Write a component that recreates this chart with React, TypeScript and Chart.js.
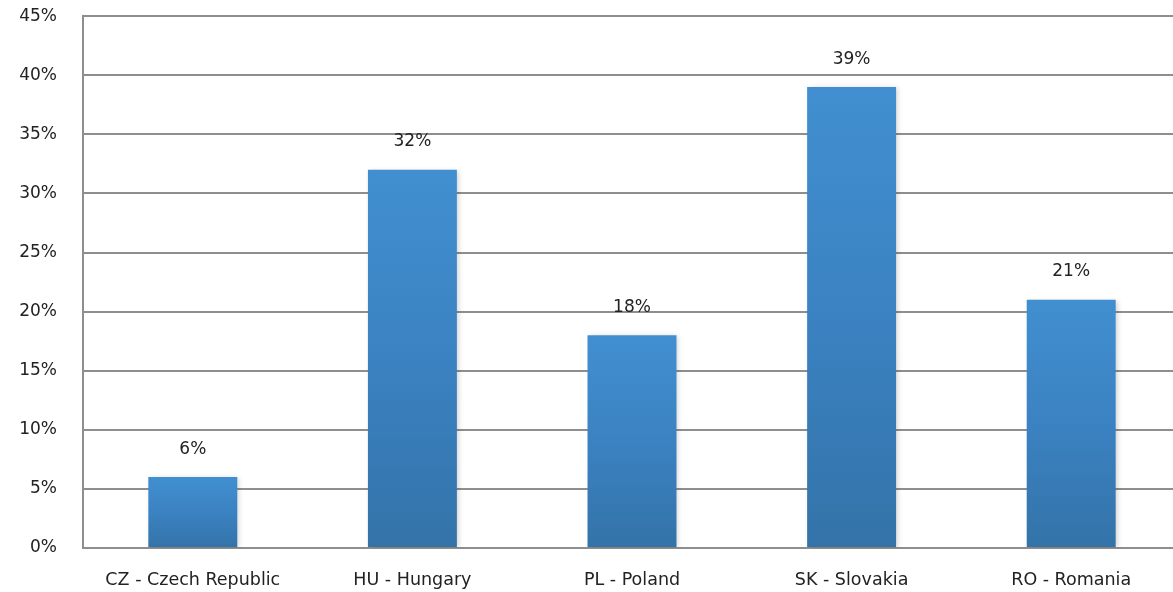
import React, { useEffect, useRef } from "react";
import { Chart, registerables } from "chart.js";

Chart.register(...registerables);

const categories = ["CZ - Czech Republic", "HU - Hungary", "PL - Poland", "SK - Slovakia", "RO - Romania"];
const values = [6, 32, 18, 39, 21];
const yTicks = [0, 5, 10, 15, 20, 25, 30, 35, 40, 45];

const FONT = "'DejaVu Sans', sans-serif";
const GRID = "#8e8e8e";

export default function App() {
  const ref = useRef<HTMLCanvasElement | null>(null);
  useEffect(() => {
    document.body.style.margin = "0";
    document.body.style.overflow = "hidden";
    const canvas = ref.current!;
    const shadowPlugin = {
      id: "shadow",
      beforeDatasetsDraw(chart: any) {
        const ctx = chart.ctx;
        ctx.save();
        ctx.shadowColor = "rgba(0,0,0,0.18)";
        ctx.shadowBlur = 5;
        ctx.shadowOffsetX = 2;
        ctx.shadowOffsetY = 1;
      },
      afterDatasetsDraw(chart: any) {
        chart.ctx.restore();
        const ctx = chart.ctx;
        const meta = chart.getDatasetMeta(0);
        ctx.save();
        ctx.font = `17px ${FONT}`;
        ctx.fillStyle = "#222";
        ctx.textAlign = "center";
        ctx.textBaseline = "middle";
        meta.data.forEach((bar: any, i: number) => {
          ctx.fillText(values[i] + "%", bar.x, bar.y - 28);
        });
        ctx.restore();
      },
    };
    const chart = new Chart(canvas, {
      type: "bar",
      data: {
        labels: categories,
        datasets: [
          {
            data: values,
            barPercentage: 0.81,
            categoryPercentage: 0.5,
            backgroundColor: (c: any) => {
              const ch = c.chart;
              if (!ch.chartArea || c.parsed === undefined) return "#3d88c8";
              const ys = ch.scales.y;
              const top = ys.getPixelForValue(c.parsed.y);
              const bot = ys.getPixelForValue(0);
              const g = ch.ctx.createLinearGradient(0, top, 0, bot);
              g.addColorStop(0, "#418fd0");
              g.addColorStop(0.5, "#3b82c2");
              g.addColorStop(1, "#3373a8");
              return g;
            },
            borderWidth: 0,
          },
        ],
      },
      options: {
        animation: false,
        responsive: false,
        maintainAspectRatio: false,
        layout: { padding: { top: 0, right: 0, left: 0, bottom: 0 } },
        plugins: { legend: { display: false }, tooltip: { enabled: false } },
        scales: {
          x: {
            grid: { display: false, drawTicks: false },
            border: { display: false },
            ticks: { color: "#222", font: { family: FONT, size: 17.5 }, padding: 22 },
            afterFit: (s: any) => { s.height = 44; },
          },
          y: {
            min: 0,
            max: 45,
            afterBuildTicks: (s: any) => { s.ticks = yTicks.map((v) => ({ value: v })); },
            grid: { color: GRID, lineWidth: 2, drawTicks: false },
            border: { display: true, color: GRID, width: 2 },
            ticks: {
              color: "#222",
              font: { family: FONT, size: 17 },
              padding: 26,
              callback: (v: any) => v + "%",
            },
            afterFit: (s: any) => { s.width = 83; },
          },
        },
      },
      plugins: [shadowPlugin],
    });
    return () => chart.destroy();
  }, []);
  return (
    <div style={{ position: "fixed", left: 0, top: -20, width: 1181, height: 612 }}>
      <canvas ref={ref} width={1181} height={612} style={{ width: 1181, height: 612 }} />
    </div>
  );
}
